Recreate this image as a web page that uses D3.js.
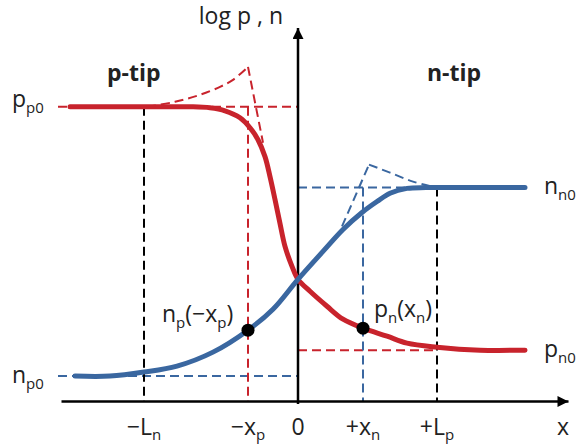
<!DOCTYPE html>
<html>
<head>
<meta charset="utf-8">
<script src="https://cdn.jsdelivr.net/npm/d3@7"></script>
<style>
  body { margin: 0; background: #fff; }
  svg { display: block; font-family: "Open Sans", sans-serif; }
</style>
</head>
<body>
<div id="chart"></div>
<script>
// x in units of distance from the junction, y in units of log concentration
const redSolid = [
    [-5.7, 14.75], [-3.7, 14.75], [-2.7, 14.75], [-2.2, 14.7], [-1.825, 14.55], [-1.45, 14.2],
    [-1.2, 13.7], [-1.0, 13.1], [-0.825, 12.25], [-0.7, 11.25], [-0.575, 10.1], [-0.45, 8.9],
    [-0.325, 7.75], [-0.15, 6.75], [0, 6.1], [0.3, 5.5], [0.725, 4.75], [1.125, 4.1],
    [1.625, 3.65], [2.225, 3.25], [2.725, 2.9], [3.475, 2.7], [4.55, 2.55], [5.675, 2.55]
];
const blueSolid = [
    [-5.575, 1.25], [-4.7, 1.25], [-3.85, 1.45], [-3.025, 1.75], [-2.125, 2.45], [-1.25, 3.55],
    [-0.625, 4.6], [0, 6.1], [0.625, 7.5], [1.125, 8.6], [1.6, 9.45], [1.975, 10.0],
    [2.3, 10.42], [2.725, 10.66], [3.2, 10.7], [4.3, 10.7], [5.675, 10.7]
];
const redOvershoot = [[-3.775, 14.75], [-3.075, 15.0], [-2.45, 15.35], [-1.95, 15.75], [-1.625, 16.1], [-1.25, 16.75]];
const redDrop = [[-1.25, 16.75], [-0.875, 12.95]];
const blueOvershoot = [[1.775, 11.85], [2.3, 11.45], [2.875, 11.0], [3.475, 10.7]];
const blueRise = [[1.1, 8.75], [1.775, 11.85]];

const ticks = [-3.85, -1.25, 0, 1.625, 3.475];
const tickLabels = [["−L", "n"], ["−x", "p"], ["0", ""], ["+x", "n"], ["+L", "p"]];
const levels = { pp0: 14.75, nn0: 10.7, pn0: 2.55, np0: 1.25 };
const dots = [[-1.25, 3.55], [1.625, 3.65]];

const red = "#c8232c";
const blue = "#3a67a0";

const width = 576, height = 446;
const svg = d3.select("#chart").append("svg").attr("width", width).attr("height", height);

const x = d3.scaleLinear().domain([-5.925, 6.75]).range([61, 568]);
const y = d3.scaleLinear().domain([0, 18.7]).range([401, 28]);

const defs = svg.append("defs");
defs.append("marker").attr("id", "arrow")
    .attr("viewBox", "0 0 10 10").attr("refX", 10).attr("refY", 5)
    .attr("markerWidth", 16).attr("markerHeight", 11).attr("markerUnits", "userSpaceOnUse")
    .attr("orient", "auto")
    .append("path").attr("d", "M0,0 L10,5 L0,10 Z").attr("fill", "#000");

const dash = "9,5";
function hDash(y0, x0, x1, color) {
    svg.append("line").attr("x1", x(x0)).attr("x2", x(x1)).attr("y1", y(y0)).attr("y2", y(y0))
        .attr("stroke", color).attr("stroke-width", 2).attr("stroke-dasharray", dash);
}
function vDash(x0, y0, y1, color) {
    svg.append("line").attr("x1", x(x0)).attr("x2", x(x0)).attr("y1", y(y0)).attr("y2", y(y1))
        .attr("stroke", color).attr("stroke-width", 2).attr("stroke-dasharray", dash);
}

// guide lines
hDash(levels.pp0, -6.0, 0, red);
hDash(levels.np0, -6.0, 0, blue);
hDash(levels.nn0, 0, 3.475, blue);
hDash(levels.pn0, 0, 3.475, red);
vDash(ticks[0], levels.pp0, 0, "#000");
vDash(ticks[1], levels.pp0, 0, red);
vDash(ticks[3], levels.nn0, 0, blue);
vDash(ticks[4], levels.nn0, 0, "#000");

const smooth = d3.line().x(d => x(d[0])).y(d => y(d[1])).curve(d3.curveCatmullRom.alpha(0.5));
const straight = d3.line().x(d => x(d[0])).y(d => y(d[1]));

// overshoot tips
[[redOvershoot, smooth, red], [redDrop, straight, red], [blueOvershoot, smooth, blue], [blueRise, straight, blue]]
    .forEach(([pts, gen, c]) => {
        svg.append("path").attr("d", gen(pts)).attr("fill", "none")
            .attr("stroke", c).attr("stroke-width", 2).attr("stroke-dasharray", dash);
    });

// axes
svg.append("g").attr("transform", `translate(0,${y(0)})`)
    .call(d3.axisBottom(x).tickValues(ticks).tickSize(0).tickSizeOuter(0).tickFormat(""))
    .call(g => g.select(".domain").attr("stroke-width", 2.5).attr("marker-end", "url(#arrow)"));
svg.append("g").attr("transform", `translate(${x(0)},0)`)
    .call(d3.axisLeft(y).tickValues([]).tickSizeOuter(0))
    .call(g => g.select(".domain").attr("stroke-width", 2.5).attr("marker-end", "url(#arrow)")
        .attr("d", `M0,${y(0) + 3}V${y(18.7)}`));

// curves
svg.append("path").attr("d", smooth(redSolid)).attr("fill", "none")
    .attr("stroke", red).attr("stroke-width", 5).attr("stroke-linecap", "round");
svg.append("path").attr("d", smooth(blueSolid)).attr("fill", "none")
    .attr("stroke", blue).attr("stroke-width", 5).attr("stroke-linecap", "round");

svg.selectAll("circle.dot").data(dots).enter().append("circle")
    .attr("cx", d => x(d[0])).attr("cy", d => y(d[1])).attr("r", 6.5).attr("fill", "#000");

// labels with subscripts
function label(px, py, parts, anchor, size, weight, subDy) {
    const t = svg.append("text").attr("x", px).attr("y", py)
        .attr("text-anchor", anchor || "start").attr("font-size", size || 23)
        .attr("font-weight", weight || "normal").attr("fill", "#222");
    const d = subDy || 6;
    parts.forEach(p => {
        const s = t.append("tspan").text(p[0]);
        if (p[1] === "sub") s.attr("font-size", 15).attr("dy", d);
        if (p[1] === "up") s.attr("dy", -d);
    });
    return t;
}

ticks.forEach((v, i) => {
    const [main, sub] = tickLabels[i];
    const parts = [[main]];
    if (sub) parts.push([sub, "sub"]);
    label(x(v), 435, parts, "middle", 23, "normal", 5);
});
label(563, 435, [["x"]], "middle");

label(283, 24, [["log p , n"]], "end", 23);
label(107, 81, [["p-tip"]], "start", 23, "bold");
label(427, 81, [["n-tip"]], "start", 23, "bold");

label(12, 107, [["p"], ["p0", "sub"]]);
label(12, 383, [["n"], ["p0", "sub"]]);
label(544, 194, [["n"], ["n0", "sub"]]);
label(544, 357, [["p"], ["n0", "sub"]]);
label(162, 322, [["n"], ["p", "sub"], ["(−x", "up"], ["p", "sub"], [")", "up"]]);
label(374, 317, [["p"], ["n", "sub"], ["(x", "up"], ["n", "sub"], [")", "up"]]);
</script>
</body>
</html>
